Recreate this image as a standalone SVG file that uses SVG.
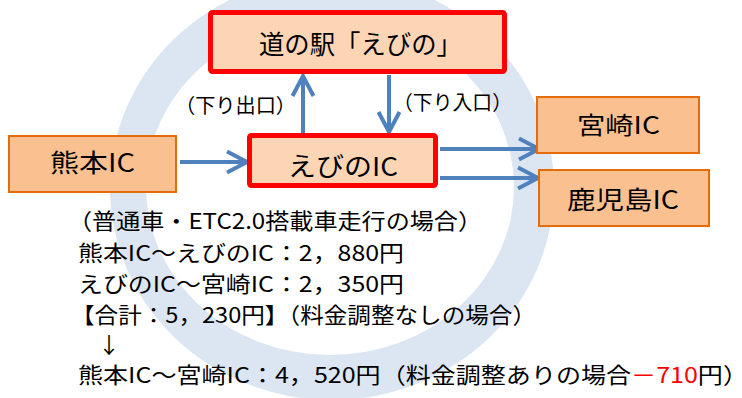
<svg xmlns="http://www.w3.org/2000/svg" width="742" height="398" viewBox="0 0 742 398">
  <defs>
    <style>
      .jp { font-family: "Noto Sans CJK JP", "Noto Sans", sans-serif; fill: #000; }
      .box-hi { fill: #fcd5b5; stroke: #ff0000; stroke-width: 5; }
      .box { fill: #fac090; stroke: #e46c0a; stroke-width: 2; }
      .conn { stroke: #4f81bd; stroke-width: 4; fill: none; marker-end: url(#chev); }
      .red { fill: #ff0000; }
    </style>
    <marker id="chev" markerUnits="userSpaceOnUse" markerWidth="30" markerHeight="30" refX="0" refY="0" orient="auto" overflow="visible">
      <path d="M-20,-10.5 L0,0 L-20,10.5" fill="none" stroke="#4f81bd" stroke-width="4"/>
    </marker>
  </defs>
  <rect x="0" y="0" width="742" height="398" fill="#ffffff"/>
  <g id="ring">
    <path fill="#dce6f2" fill-rule="evenodd" d="M110,188 A222,212 0 1,0 554,188 A222,212 0 1,0 110,188 Z M146,187 A184,168 0 1,0 514,187 A184,168 0 1,0 146,187 Z"/>
  </g>
  <g id="connectors">
    <line class="conn" x1="180" y1="162" x2="247" y2="162"/>
    <line class="conn" x1="303" y1="133" x2="303" y2="76"/>
    <line class="conn" x1="389" y1="75" x2="389" y2="132"/>
    <line class="conn" x1="440" y1="149" x2="539" y2="149"/>
    <line class="conn" x1="440" y1="178" x2="538" y2="178"/>
  </g>
  <g id="michinoeki">
    <rect class="box-hi" x="210.5" y="12.5" width="294" height="59" rx="2"/>
    <text class="jp" x="259" y="54" font-size="26" textLength="203" lengthAdjust="spacingAndGlyphs">道の駅「えびの」</text>
  </g>
  <g id="ebino-ic">
    <rect class="box-hi" x="249.5" y="135.5" width="186" height="50" rx="2"/>
    <text class="jp" x="288" y="176" font-size="26" textLength="110" lengthAdjust="spacingAndGlyphs">えびのIC</text>
  </g>
  <g id="kumamoto-ic">
    <rect class="box" x="9" y="136" width="167" height="56"/>
    <text class="jp" x="50" y="172" font-size="25" textLength="85" lengthAdjust="spacingAndGlyphs">熊本IC</text>
  </g>
  <g id="miyazaki-ic">
    <rect class="box" x="537" y="97" width="162" height="56"/>
    <text class="jp" x="577" y="134" font-size="24" textLength="83" lengthAdjust="spacingAndGlyphs">宮崎IC</text>
  </g>
  <g id="kagoshima-ic">
    <rect class="box" x="539" y="170" width="170" height="56"/>
    <text class="jp" x="567" y="209" font-size="25" textLength="112" lengthAdjust="spacingAndGlyphs">鹿児島IC</text>
  </g>
  <g id="labels">
    <text class="jp" x="175" y="113" font-size="20" textLength="121" lengthAdjust="spacingAndGlyphs">（下り出口）</text>
    <text class="jp" x="393" y="110" font-size="20" textLength="119" lengthAdjust="spacingAndGlyphs">（下り入口）</text>
  </g>
  <g id="fare-text">
    <text class="jp" x="68" y="229" font-size="22" textLength="414" lengthAdjust="spacingAndGlyphs">（普通車・ETC2.0搭載車走行の場合）</text>
    <text class="jp" x="78" y="261" font-size="22" textLength="326" lengthAdjust="spacingAndGlyphs">熊本IC～えびのIC：2，880円</text>
    <text class="jp" x="78" y="292" font-size="22" textLength="326" lengthAdjust="spacingAndGlyphs">えびのIC～宮崎IC：2，350円</text>
    <text class="jp" x="71" y="323" font-size="22" textLength="465" lengthAdjust="spacingAndGlyphs">【合計：5，230円】（料金調整なしの場合）</text>
    <text class="jp" x="98" y="353" font-size="22">↓</text>
    <text class="jp" x="78" y="383" font-size="22" textLength="670" lengthAdjust="spacingAndGlyphs">熊本IC～宮崎IC：4，520円（料金調整ありの場合<tspan class="red">－710</tspan>円）</text>
  </g>
</svg>
